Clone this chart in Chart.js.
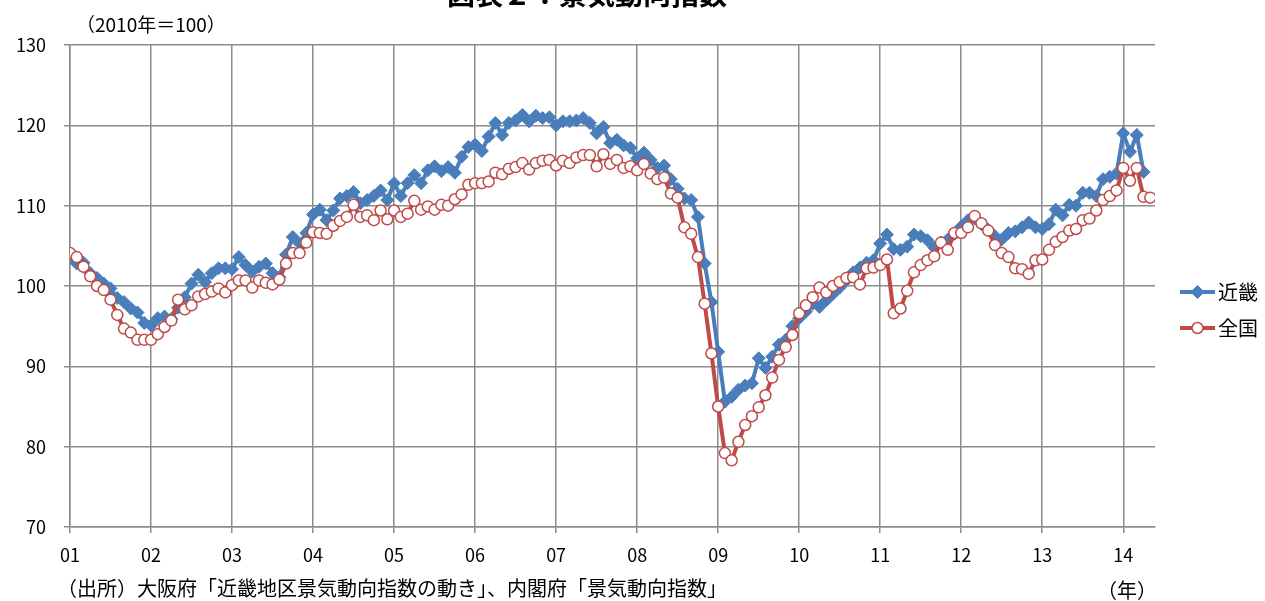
<!DOCTYPE html>
<html lang="ja">
<head>
<meta charset="utf-8">
<title>景気動向指数</title>
<script src="https://cdn.jsdelivr.net/npm/chart.js@4.4.1/dist/chart.umd.min.js"></script>
<style>
html,body{margin:0;padding:0;background:#fff;}
canvas{display:block;}
</style>
</head>
<body>
<canvas id="c" width="1265" height="601"></canvas>
<script>
// Year tick labels (one per January, starting 2001)
const yearLabels = ['01','02','03','04','05','06','07','08','09','10','11','12','13','14'];

// 近畿: monthly CI, 2001-01 .. 2014-04
const kinki = [
  103.5, 102.8, 102.9, 101.6, 101.0, 100.3, 99.7, 98.5, 98.0, 97.2, 96.7, 95.4,
  95.1, 96.0, 96.2, 95.9, 97.3, 98.6, 100.3, 101.4, 100.5, 101.6, 102.2, 102.2,
  102.1, 103.6, 102.6, 101.8, 102.4, 102.8, 101.6, 101.1, 103.9, 106.1, 105.3, 106.6,
  108.9, 109.5, 108.2, 109.4, 110.9, 111.2, 111.7, 110.3, 110.7, 111.2, 111.9, 110.7,
  112.8, 111.2, 112.8, 113.8, 112.8, 114.4, 114.9, 114.3, 114.8, 114.1, 116.1, 117.3,
  117.6, 116.8, 118.6, 120.3, 118.8, 120.3, 120.6, 121.3, 120.5, 121.2, 120.9, 121.0,
  120.0, 120.5, 120.5, 120.6, 120.9, 120.3, 119.0, 119.8, 117.8, 118.2, 117.5, 117.2,
  115.9, 116.6, 115.7, 114.7, 115.0, 113.3, 112.1, 110.9, 110.7, 108.6, 102.8, 98.0,
  91.8, 85.6, 86.2, 87.1, 87.6, 87.9, 91.0, 89.8, 91.2, 92.7, 93.3, 95.0,
  96.0, 96.8, 97.8, 97.4, 98.2, 99.0, 99.8, 100.7, 101.7, 102.3, 102.9, 103.2,
  105.3, 106.4, 104.6, 104.5, 104.9, 106.4, 106.2, 105.7, 104.8, 105.4, 105.8, 106.5,
  107.4, 108.2, 108.4, 107.7, 107.0, 106.2, 105.8, 106.6, 106.8, 107.3, 107.9, 107.3,
  107.1, 107.7, 109.5, 108.8, 110.1, 110.0, 111.6, 111.6, 111.2, 113.3, 113.6, 114.0,
  119.0, 116.7, 118.8, 114.2
];

// 全国: monthly CI, 2001-01 .. 2014-05
const zenkoku = [
  104.1, 103.6, 102.4, 101.2, 100.0, 99.5, 98.3, 96.4, 94.7, 94.2, 93.3, 93.3,
  93.3, 94.0, 94.9, 95.7, 98.3, 97.1, 97.6, 98.7, 99.0, 99.3, 99.7, 99.2,
  100.1, 100.7, 100.7, 99.8, 100.7, 100.4, 100.2, 100.8, 102.8, 104.1, 104.1, 105.4,
  106.7, 106.6, 106.5, 107.5, 108.1, 108.6, 110.1, 108.6, 108.8, 108.2, 109.4, 108.3,
  109.4, 108.6, 109.0, 110.6, 109.5, 109.9, 109.5, 110.1, 110.0, 110.8, 111.4, 112.6,
  112.8, 112.8, 113.0, 114.1, 113.9, 114.6, 114.8, 115.3, 114.5, 115.3, 115.6, 115.7,
  115.0, 115.6, 115.3, 116.0, 116.3, 116.3, 114.9, 116.4, 115.2, 115.7, 114.7, 114.9,
  114.4, 115.2, 114.0, 113.3, 113.5, 111.5, 111.0, 107.3, 106.5, 103.6, 97.8, 91.6,
  85.0, 79.2, 78.3, 80.6, 82.7, 83.8, 84.9, 86.4, 88.6, 90.8, 92.4, 93.9,
  96.6, 97.6, 98.6, 99.8, 99.2, 100.0, 100.5, 101.0, 101.1, 100.2, 102.2, 102.3,
  102.6, 103.3, 96.6, 97.2, 99.4, 101.7, 102.6, 103.2, 103.7, 105.4, 104.5, 106.6,
  106.6, 107.3, 108.7, 107.8, 106.9, 105.1, 104.1, 103.6, 102.2, 102.1, 101.5, 103.2,
  103.3, 104.5, 105.5, 106.1, 106.9, 107.1, 108.2, 108.4, 109.4, 110.7, 111.2, 111.9,
  114.7, 113.1, 114.7, 111.1, 111.0
];

const seriesNames = ['近畿', '全国'];
const titleText = '図表２：景気動向指数';
const unitText = '（2010年＝100）';
const sourceText = '（出所）大阪府「近畿地区景気動向指数の動き」、内閣府「景気動向指数」';
const yearUnitText = '（年）';

const FONT = '"Noto Sans CJK JP", "Noto Sans", sans-serif';
const BLUE = '#4a7ebb';
const RED = '#be4b48';
const GRID = '#8c8c8c';

const toPoints = arr => arr.map((v, i) => ({ x: i, y: v }));

// Titles, notes and the legend drawn on top of the chart
const decorations = {
  id: 'decorations',
  afterDraw(chart) {
    const ctx = chart.ctx;
    ctx.save();
    ctx.fillStyle = '#000';

    ctx.font = 'bold 28px ' + FONT;
    ctx.textAlign = 'center';
    ctx.textBaseline = 'alphabetic';
    ctx.fillText(titleText, 587, 5);

    ctx.font = '19px ' + FONT;
    ctx.textAlign = 'left';
    ctx.textBaseline = 'middle';
    ctx.fillText(unitText, 76, 25);
    ctx.font = '20px ' + FONT;
    ctx.fillText(sourceText, 57, 588);
    ctx.fillText(yearUnitText, 1097, 590);

    // legend: line sample with the series marker, then the name
    const items = [
      { ds: chart.data.datasets[0], y: 292 },
      { ds: chart.data.datasets[1], y: 328 }
    ];
    items.forEach(it => {
      const cx = 1197.5;
      ctx.strokeStyle = it.ds.borderColor;
      ctx.lineWidth = it.ds.borderWidth;
      ctx.beginPath();
      ctx.moveTo(1180, it.y);
      ctx.lineTo(1215, it.y);
      ctx.stroke();
      ctx.fillStyle = it.ds.pointBackgroundColor;
      ctx.strokeStyle = it.ds.pointBorderColor;
      ctx.lineWidth = it.ds.pointBorderWidth;
      ctx.beginPath();
      if (it.ds.pointStyle === 'circle') {
        ctx.arc(cx, it.y, it.ds.pointRadius, 0, Math.PI * 2);
      } else {
        const r = it.ds.pointRadius;
        ctx.moveTo(cx, it.y - r);
        ctx.lineTo(cx + r, it.y);
        ctx.lineTo(cx, it.y + r);
        ctx.lineTo(cx - r, it.y);
        ctx.closePath();
      }
      ctx.fill();
      ctx.stroke();
      ctx.fillStyle = '#000';
      ctx.font = '20px ' + FONT;
      ctx.textAlign = 'left';
      ctx.textBaseline = 'middle';
      ctx.fillText(it.ds.label, 1218, it.y);
    });
    ctx.restore();
  }
};

new Chart(document.getElementById('c'), {
  type: 'line',
  data: {
    datasets: [
      {
        label: seriesNames[0],
        data: toPoints(kinki),
        order: 1,
        borderColor: BLUE,
        backgroundColor: BLUE,
        borderWidth: 4,
        pointStyle: 'rectRot',
        pointRadius: 6.5,
        pointBackgroundColor: BLUE,
        pointBorderColor: BLUE,
        pointBorderWidth: 1,
        tension: 0
      },
      {
        label: seriesNames[1],
        data: toPoints(zenkoku),
        order: 0,
        borderColor: RED,
        backgroundColor: RED,
        borderWidth: 4,
        pointStyle: 'circle',
        pointRadius: 5.5,
        pointBackgroundColor: '#ffffff',
        pointBorderColor: RED,
        pointBorderWidth: 1.5,
        tension: 0
      }
    ]
  },
  options: {
    responsive: false,
    animation: false,
    devicePixelRatio: 1,
    layout: { padding: { top: 45, right: 110, left: 0, bottom: 0 } },
    plugins: {
      legend: { display: false },
      tooltip: { enabled: false },
      title: { display: false }
    },
    scales: {
      x: {
        type: 'linear',
        min: 0,
        max: 160.7,
        afterBuildTicks(scale) {
          scale.ticks = yearLabels.map((_, k) => ({ value: k * 12 }));
        },
        afterFit(scale) { scale.height = 74; },
        ticks: {
          autoSkip: false,
          maxRotation: 0,
          padding: 11,
          color: '#000',
          font: { family: FONT, size: 18 },
          callback: (v, idx) => yearLabels[idx]
        },
        grid: { color: GRID, lineWidth: 1.5, tickLength: 6 },
        border: { color: GRID, width: 1.5 }
      },
      y: {
        min: 70,
        max: 130,
        afterFit(scale) { scale.width = 70; },
        ticks: {
          stepSize: 10,
          padding: 18,
          color: '#000',
          font: { family: FONT, size: 18 }
        },
        grid: { color: GRID, lineWidth: 1.5, tickLength: 6 },
        border: { color: GRID, width: 1.5 }
      }
    }
  },
  plugins: [decorations]
});
</script>
</body>
</html>
